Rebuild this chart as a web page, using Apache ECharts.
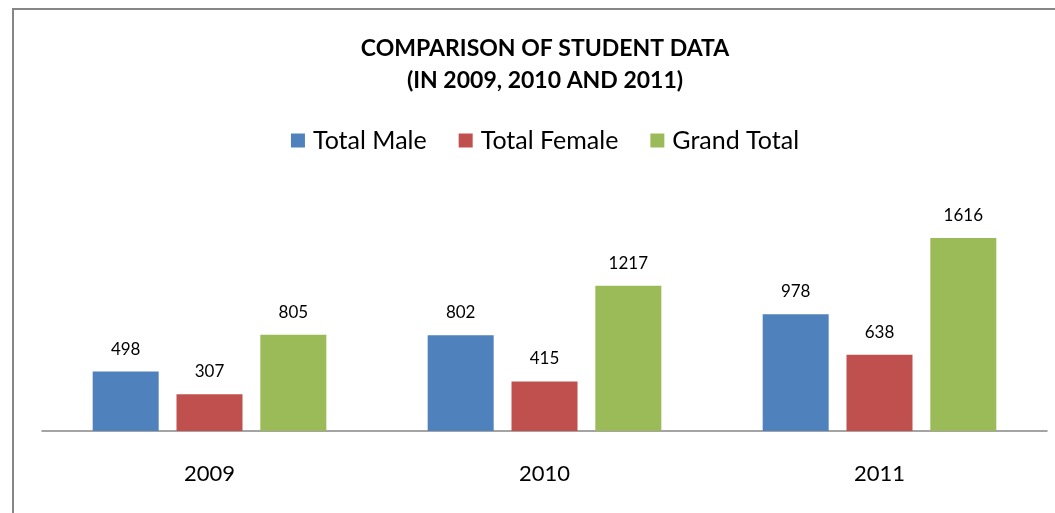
<!DOCTYPE html>
<html style="height: 100%">
<head>
    <meta charset="utf-8">
</head>
<body style="height: 100%; margin: 0; background: #fff; overflow: hidden">
<!-- chart is wider than the window; its right part is cut off like in the source picture -->
<div id="container" style="width: 1090px; height: 513px"></div>
<script type="text/javascript" src="https://cdn.jsdelivr.net/npm/echarts@6/dist/echarts.min.js"></script>
<script type="text/javascript">
    var dom = document.getElementById("container");
    var myChart = echarts.init(dom);

    var years = ['2009', '2010', '2011'];
    var totalMale = [498, 802, 978];
    var totalFemale = [307, 415, 638];
    var grandTotal = [805, 1217, 1616];

    var font = 'Lato, "Open Sans", sans-serif';

    function barSeries(name, data, color) {
        return {
            name: name,
            type: 'bar',
            data: data,
            barWidth: 66,
            barGap: '27%',
            itemStyle: {color: color},
            label: {
                show: true,
                position: 'top',
                distance: 14,
                color: '#000',
                fontFamily: font,
                fontSize: 17
            }
        };
    }

    var option = {
        animation: false,
        textStyle: {fontFamily: font},
        // chart frame
        graphic: [{
            type: 'rect',
            shape: {x: 13, y: 9, width: 1150, height: 600},
            style: {fill: 'none', stroke: '#868686', lineWidth: 2}
        }],
        title: {
            text: 'COMPARISON OF STUDENT DATA\n(IN 2009, 2010 AND 2011)',
            left: 'center',
            top: 28,
            textStyle: {
                fontFamily: font,
                fontWeight: 'bold',
                fontSize: 23,
                lineHeight: 32,
                color: '#000'
            }
        },
        legend: {
            top: 123,
            left: 'center',
            itemWidth: 14,
            itemHeight: 14,
            itemGap: 32,
            icon: 'rect',
            textStyle: {fontFamily: font, fontSize: 25, color: '#000', padding: [0, 0, 0, 3]},
            data: ['Total Male', 'Total Female', 'Grand Total']
        },
        grid: {left: 42, right: 43, top: 216, bottom: 82, containLabel: false},
        xAxis: {
            type: 'category',
            data: years,
            axisLine: {lineStyle: {color: '#868686', width: 1.5}},
            axisTick: {show: false},
            axisLabel: {color: '#000', fontFamily: font, fontSize: 22, margin: 32}
        },
        yAxis: {
            type: 'value',
            min: 0,
            max: 1800,
            show: false,
            splitLine: {show: false}
        },
        series: [
            barSeries('Total Male', totalMale, '#4f81bd'),
            barSeries('Total Female', totalFemale, '#c0504d'),
            barSeries('Grand Total', grandTotal, '#9bbb59')
        ]
    };

    myChart.setOption(option);
</script>
</body>
</html>
